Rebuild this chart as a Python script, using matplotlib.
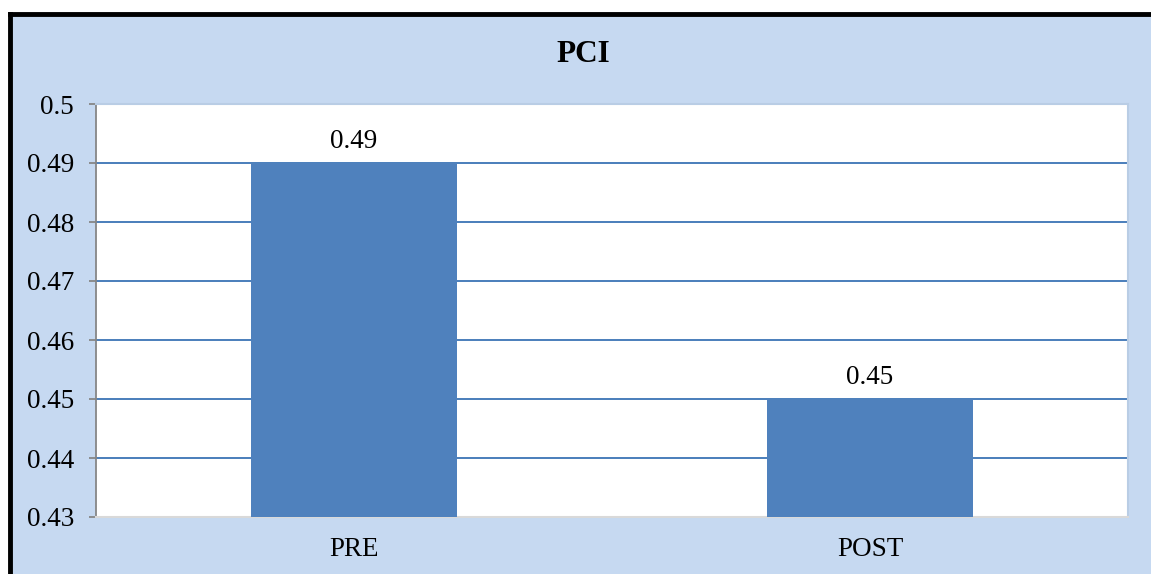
import matplotlib
matplotlib.use("Agg")
import matplotlib.pyplot as plt
from matplotlib.lines import Line2D

categories = ["PRE", "POST"]
values = [0.49, 0.45]
yticks = [0.43, 0.44, 0.45, 0.46, 0.47, 0.48, 0.49, 0.5]
ytick_labels = ["0.43", "0.44", "0.45", "0.46", "0.47", "0.48", "0.49", "0.5"]
title = "PCI"

W, H = 1151, 574
fig = plt.figure(figsize=(W / 100, H / 100), dpi=100)
fig.patch.set_facecolor("white")
plt.rcParams["font.family"] = ["Liberation Serif", "DejaVu Serif"]

# chart background (light blue) with black top/left border
bg = plt.Rectangle((10 / W, 0), 1 - 10 / W, 1 - 14 / H, transform=fig.transFigure,
                   facecolor="#C6D9F1", edgecolor="none", zorder=-5)
fig.add_artist(bg)
fig.add_artist(Line2D([10 / W, 1], [1 - 14 / H, 1 - 14 / H], transform=fig.transFigure,
                      color="black", lw=3.5, solid_capstyle="projecting", zorder=-4))
fig.add_artist(Line2D([10 / W, 10 / W], [0, 1 - 14 / H], transform=fig.transFigure,
                      color="black", lw=3.5, solid_capstyle="projecting", zorder=-4))

left, right, top, bottom = 96, 1128, 104, 517
ax = fig.add_axes([left / W, 1 - bottom / H, (right - left) / W, (bottom - top) / H])
ax.set_zorder(1)
ax.set_facecolor("white")

x = list(range(len(categories)))
ax.bar(x, values, width=0.4, color="#4F81BD", zorder=3)
ax.set_xlim(-0.5, 1.5)
ax.set_ylim(0.43, 0.5)
ax.set_yticks(yticks)
ax.set_yticklabels(ytick_labels)
ax.set_xticks(x)
ax.set_xticklabels(categories)
for yv in yticks[1:]:
    ax.axhline(yv, color="#4A7EBB", lw=1.4, zorder=2)

for xi, v in zip(x, values):
    ax.text(xi, v + 0.0036, f"{v:.2f}", ha="center", va="center", fontsize=19.5, color="black", zorder=4)

ax.tick_params(axis="y", length=5, width=1.3, color="#868686", labelsize=19.5, pad=11)
ax.tick_params(axis="x", length=0, labelsize=19.5, pad=14.5)
ax.spines["left"].set_color("#868686")
ax.spines["left"].set_linewidth(1.3)
ax.spines["bottom"].set_color("#D9D9D9")
ax.spines["bottom"].set_linewidth(1.5)
ax.spines["top"].set_color("#B9CDE5")
ax.spines["right"].set_color("#B9CDE5")
ax.spines["top"].set_linewidth(1.5)
ax.spines["right"].set_linewidth(1.5)

fig.text(583 / W, 1 - 54 / H, title, ha="center", va="center", fontsize=22.5, fontweight="bold")

fig.savefig("out.png", dpi=100)
